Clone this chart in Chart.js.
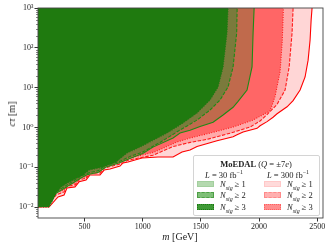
<!DOCTYPE html>
<html>
<head>
<meta charset="utf-8">
<script src="https://cdn.jsdelivr.net/npm/chart.js@4.4.1/dist/chart.umd.min.js"></script>
<style>
    body { margin: 0; background: #fff; }
    #wrap { position: relative; width: 332px; height: 249px; font-family: 'Liberation Serif', 'DejaVu Serif', serif; color: #222; }
    #chart { position: absolute; left: 0; top: 0; }
    .txt { position: absolute; white-space: nowrap; line-height: 1; }
    .axis-title { font-size: 10px; }
    #legend { position: absolute; left: 193px; top: 155px; width: 125px; height: 59px; border: 1px solid #d4d4d4; border-radius: 2px; background: rgba(255,255,255,0.85); font-size: 8.5px; }
    .patch { position: absolute; width: 17px; height: 6px; box-sizing: border-box; }
    sub, sup { font-size: 70%; line-height: 0; }
</style>
</head>
<body>
<div id="wrap">
    <canvas id="chart" width="332" height="249"></canvas>
    <div class="txt axis-title" id="xTitle" style="left:180px; top:232px; transform:translateX(-50%);"><i>m</i> [GeV]</div>
    <div class="txt axis-title" id="yTitle" style="left:12px; top:114px; transform:translate(-50%,-50%) rotate(-90deg);"><i>cτ</i> [m]</div>
    <div id="legend">
        <div class="txt" style="left:62px; top:4px; transform:translateX(-50%);"><b>MoEDAL</b> (<i>Q</i> = ±7<i>e</i>)</div>
        <div class="txt" style="left:30px; top:15px; transform:translateX(-50%);"><i>L</i> = 30 fb<sup>−1</sup></div>
        <div class="txt" style="left:94px; top:15px; transform:translateX(-50%);"><i>L</i> = 300 fb<sup>−1</sup></div>

        <div class="patch" style="left:3px; top:25px; background:#b4d9af; border:1px solid #a3cf9e;"></div>
        <div class="txt" style="left:26px; top:24px;"><i>N<sub>sig</sub></i> ≥ 1</div>
        <div class="patch" style="left:3px; top:36px; background:#7fbf78; border:1px dashed #4d9f45;"></div>
        <div class="txt" style="left:26px; top:35px;"><i>N<sub>sig</sub></i> ≥ 2</div>
        <div class="patch" style="left:3px; top:48px; background:#3f9a36; border:1px dotted #1c7a14;"></div>
        <div class="txt" style="left:26px; top:47px;"><i>N<sub>sig</sub></i> ≥ 3</div>

        <div class="patch" style="left:70px; top:25px; background:#ffdada; border:1px solid #ffc8c8;"></div>
        <div class="txt" style="left:93px; top:24px;"><i>N<sub>sig</sub></i> ≥ 1</div>
        <div class="patch" style="left:70px; top:36px; background:#ffb0b0; border:1px dashed #ff8a8a;"></div>
        <div class="txt" style="left:93px; top:35px;"><i>N<sub>sig</sub></i> ≥ 2</div>
        <div class="patch" style="left:70px; top:48px; background:#ff8e8e; border:1px dotted #ff6060;"></div>
        <div class="txt" style="left:93px; top:47px;"><i>N<sub>sig</sub></i> ≥ 3</div>
    </div>
</div>
<script>
// tick labels
const xTickValues = [500, 1000, 1500, 2000, 2500];
const yTickExps = [-2, -1, 0, 1, 2, 3];

// L = 30 fb^-1
const massL30N1 = [100, 200, 255, 330, 400, 450, 520, 620, 680, 800, 900, 1000, 1089, 1261, 1321, 1407, 1493, 1553, 1605, 1691, 1777, 1820, 1897, 1940, 1949, 1958];
const ctauL30N1 = [0.01, 0.013, 0.022, 0.03, 0.04, 0.05, 0.065, 0.075, 0.1, 0.13, 0.17, 0.22, 0.32, 0.54, 0.72, 0.85, 1.05, 1.2, 1.35, 2.05, 3.2, 4.5, 8.7, 33, 235, 1000];
const massL30N2 = [100, 200, 255, 330, 400, 450, 520, 620, 680, 800, 900, 1000, 1149, 1321, 1467, 1579, 1665, 1734, 1777, 1808, 1812];
const ctauL30N2 = [0.01, 0.014, 0.024, 0.033, 0.044, 0.055, 0.07, 0.082, 0.11, 0.14, 0.19, 0.24, 0.42, 0.86, 1.53, 2.74, 4.88, 10.4, 33, 235, 1000];
const massL30N3 = [100, 195, 229, 255, 298, 367, 487, 539, 659, 771, 865, 977, 1209, 1347, 1467, 1579, 1648, 1691, 1725, 1734];
const ctauL30N3 = [0.01, 0.01, 0.015, 0.0225, 0.032, 0.0425, 0.064, 0.085, 0.101, 0.135, 0.227, 0.32, 0.72, 1.29, 2.3, 4.88, 10.4, 33, 235, 1000];

// L = 300 fb^-1
const massL300N1 = [100, 195, 272, 324, 349, 418, 453, 513, 547, 633, 668, 719, 805, 831, 874, 994, 1132, 1261, 1338, 1407, 1467, 1579, 1639, 1777, 1811, 1863, 1983, 2009, 2069, 2121, 2155, 2241, 2293, 2353, 2396, 2422, 2439, 2448, 2456];
const ctauL300N1 = [0.01, 0.01, 0.018, 0.02, 0.03, 0.032, 0.043, 0.048, 0.064, 0.064, 0.085, 0.09, 0.107, 0.128, 0.135, 0.17, 0.18, 0.18, 0.24, 0.27, 0.33, 0.41, 0.46, 0.58, 0.65, 0.77, 0.95, 1.1, 1.4, 1.8, 2.2, 3.3, 4.7, 8.7, 18.5, 49, 157, 500, 1000];
const massL300N2 = [100, 180, 255, 324, 349, 418, 453, 513, 547, 633, 668, 805, 874, 1089, 1261, 1407, 1553, 1755, 1923, 2009, 2069, 2155, 2224, 2259, 2284, 2293];
const ctauL300N2 = [0.01, 0.011, 0.02, 0.024, 0.033, 0.036, 0.048, 0.053, 0.07, 0.072, 0.095, 0.12, 0.15, 0.2, 0.33, 0.42, 0.5, 0.72, 1.02, 1.45, 2.1, 3.8, 8.7, 33, 235, 1000];
const massL300N3 = [100, 170, 240, 324, 349, 418, 453, 513, 547, 633, 668, 805, 874, 1100, 1295, 1407, 1579, 1777, 1949, 2095, 2138, 2181, 2200, 2210];
const ctauL300N3 = [0.01, 0.012, 0.022, 0.027, 0.036, 0.04, 0.053, 0.058, 0.076, 0.08, 0.105, 0.13, 0.165, 0.24, 0.43, 0.54, 0.72, 1.02, 1.53, 2.6, 6, 25, 150, 1000];

const FONT = "'Liberation Serif', 'DejaVu Serif', serif";
const SUP = { '-': '⁻', '0': '⁰', '1': '¹', '2': '²', '3': '³', '4': '⁴', '5': '⁵', '6': '⁶', '7': '⁷', '8': '⁸', '9': '⁹' };

function toPoints(masses, ctaus) {
    return masses.map((m, i) => ({ x: m, y: ctaus[i] }));
}

function region(masses, ctaus, fillColor, lineColor, dash) {
    return {
        data: toPoints(masses, ctaus),
        fill: 'end',
        backgroundColor: fillColor,
        borderColor: lineColor,
        borderWidth: 1.1,
        borderDash: dash,
        pointRadius: 0,
        tension: 0
    };
}

// innermost first so it's drawn on top
const datasets = [
    region(massL30N3, ctauL30N3, '#1f7a0f', '#1a7a12', [1, 1.5]),
    region(massL30N2, ctauL30N2, '#7b7a3c', '#1e8a16', [3.5, 1.5]),
    region(massL30N1, ctauL30N1, '#c06a4c', '#1e8a16', []),
    region(massL300N3, ctauL300N3, '#ff6666', '#ff1a1a', [1, 1.5]),
    region(massL300N2, ctauL300N2, '#ffaaaa', '#ff1a1a', [3.5, 1.5]),
    region(massL300N1, ctauL300N1, '#ffd6d6', '#ff0000', [])
];

const framePlugin = {
    id: 'frame',
    afterDraw(chart) {
        const ctx = chart.ctx;
        const area = chart.chartArea;
        const y = chart.scales.y;
        ctx.save();
        ctx.strokeStyle = '#333';
        ctx.lineWidth = 0.6;
        // minor ticks on the log axis
        for (let d = -3; d < 3; d++) {
            for (let k = 2; k <= 9; k++) {
                const v = k * Math.pow(10, d);
                if (v < y.min || v > y.max) continue;
                const py = Math.round(y.getPixelForValue(v)) + 0.5;
                ctx.beginPath();
                ctx.moveTo(area.left, py);
                ctx.lineTo(area.left - 2, py);
                ctx.stroke();
            }
        }
        ctx.lineWidth = 0.9;
        ctx.strokeStyle = '#444';
        ctx.strokeRect(area.left, area.top, area.right - area.left, area.bottom - area.top);
        ctx.restore();
    }
};

new Chart(document.getElementById('chart'), {
    type: 'line',
    data: { datasets: datasets },
    options: {
        responsive: false,
        animation: false,
        layout: { padding: { top: 8, right: 9, left: 0, bottom: 0 } },
        plugins: {
            legend: { display: false },
            tooltip: { enabled: false }
        },
        scales: {
            x: {
                type: 'linear',
                min: 100,
                max: 2550,
                afterBuildTicks: function(scale) {
                    scale.ticks = xTickValues.map(v => ({ value: v }));
                },
                afterFit: function(scale) {
                    scale.height = 31;
                },
                ticks: {
                    autoSkip: false,
                    maxRotation: 0,
                    padding: 1,
                    color: '#222',
                    font: { family: FONT, size: 8 },
                    callback: function(value) {
                        return String(value);
                    }
                },
                grid: { drawOnChartArea: false, tickLength: 3.5, color: '#333' },
                border: { display: false }
            },
            y: {
                type: 'logarithmic',
                min: 0.0053,
                max: 1000,
                afterBuildTicks: function(scale) {
                    scale.ticks = yTickExps.map(e => ({ value: Math.pow(10, e) }));
                },
                afterFit: function(scale) {
                    scale.width = 38;
                },
                ticks: {
                    autoSkip: false,
                    padding: 1,
                    color: '#222',
                    font: { family: FONT, size: 8 },
                    callback: function(value) {
                        const exp = String(Math.round(Math.log10(value)));
                        return '10' + exp.split('').map(c => SUP[c]).join('');
                    }
                },
                grid: { drawOnChartArea: false, tickLength: 3.5, color: '#333' },
                border: { display: false }
            }
        }
    },
    plugins: [framePlugin]
});
</script>
</body>
</html>
